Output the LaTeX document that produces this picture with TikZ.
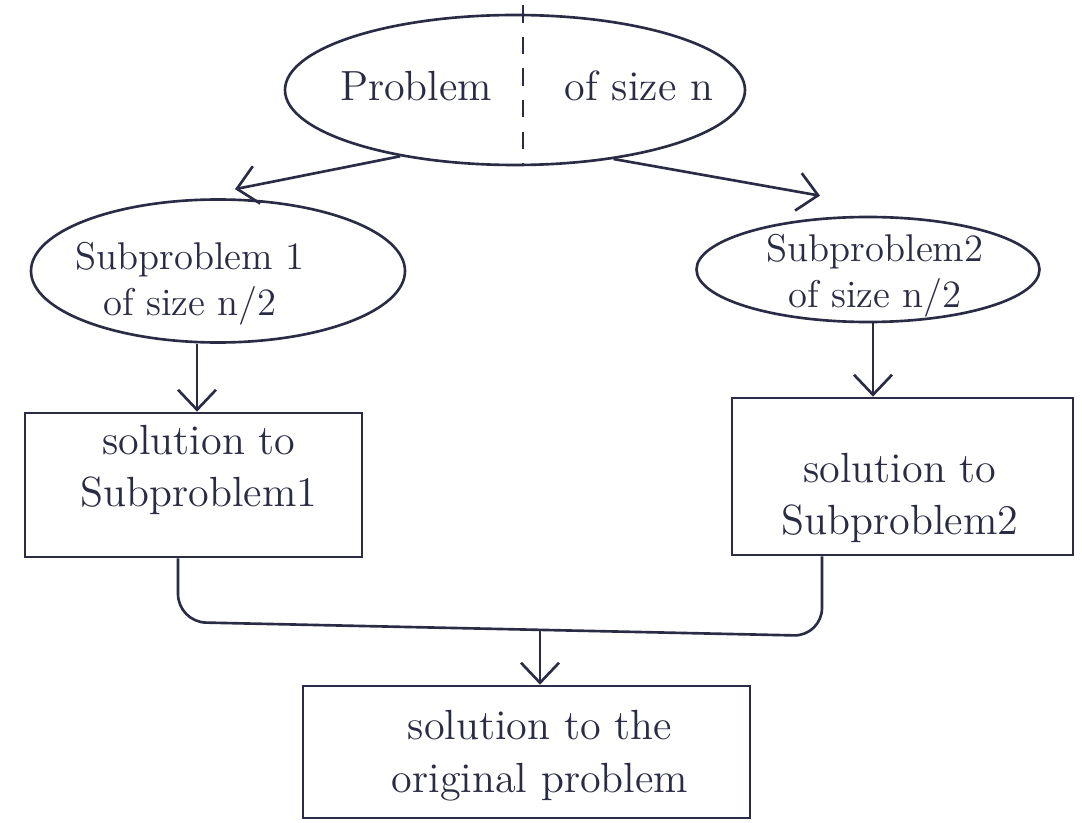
\documentclass[tikz,border=0pt]{standalone}
\usetikzlibrary{shapes.geometric,arrows.meta,calc}
\definecolor{pen}{HTML}{2A2B45}
\begin{document}
\begin{tikzpicture}[
  every node/.style={text=pen, font=\fontsize{12}{15}\selectfont},
  ell/.style={draw=pen, line width=0.75pt, ellipse, inner sep=0pt},
  solbox/.style={draw=pen, line width=0.75pt, rectangle, inner sep=0pt},
  txt/.style={align=center, inner sep=0pt},
  small/.style={font=\fontsize{11}{13}\selectfont},
  link/.style={draw=pen, line width=0.75pt},
  arr/.style={link, -{Straight Barb[length=2mm,width=3.8mm]}}
]
\useasboundingbox (0,0) rectangle (10.82,-8.23);
\fill[white] (0,0) rectangle (10.82,-8.23);

% shapes
\node[ell, minimum width=4.60cm, minimum height=1.50cm] (top) at (5.15,-0.90) {};
\node[ell, minimum width=3.74cm, minimum height=1.43cm] (le) at (2.18,-2.71) {};
\node[ell, minimum width=3.43cm, minimum height=1.05cm] (re) at (8.68,-2.695) {};
\node[solbox, minimum width=3.37cm, minimum height=1.44cm] (lb) at (1.935,-4.85) {};
\node[solbox, minimum width=3.41cm, minimum height=1.57cm] (rb) at (9.025,-4.765) {};
\node[solbox, minimum width=4.47cm, minimum height=1.32cm] (bb) at (5.265,-7.52) {};

% texts
\node[txt] (topl) at (4.16,-0.86) {Problem};
\node[txt] (topr) at (6.39,-0.86) {of size n};
\node[txt, small] (let) at (1.90,-2.84) {Subproblem 1\\of size n/2};
\node[txt, small] (ret) at (8.75,-2.76) {Subproblem2\\of size n/2};
\node[txt] (lbt) at (1.99,-4.70) {solution to\\Subproblem1};
\node[txt] (rbt) at (9.00,-4.98) {solution to\\Subproblem2};
\node[txt] (bbt) at (5.40,-7.56) {solution to the\\original problem};

% dashed split of the top problem
\coordinate (dt) at (5.23,-0.05);
\draw[link, dashed, dash pattern=on 5pt off 4pt] (dt) -- (dt |- top.south);

% divide arrows
\draw[arr] (top.210) -- ([shift={(0.17,0.09)}]le.north);
\draw[arr] (top.325) -- ([shift={(-0.48,0.20)}]re.north);

% solve arrows
\coordinate (ax) at (1.97,0);
\draw[arr] (le.south -| ax) -- (lb.north -| ax);
\coordinate (bx) at (8.73,0);
\draw[arr] (re.south -| bx) -- (rb.north -| bx);

% combine
\coordinate (jl) at (1.78,-6.22);
\coordinate (jr) at (8.22,-6.36);
\draw[link, rounded corners=8pt] (lb.south -| jl) -- (jl) -- (jr) -- (rb.south -| jr);
\coordinate (jm) at (5.40,-6.31);
\draw[arr] (jm) -- (bb.north -| jm);
\end{tikzpicture}
\end{document}
